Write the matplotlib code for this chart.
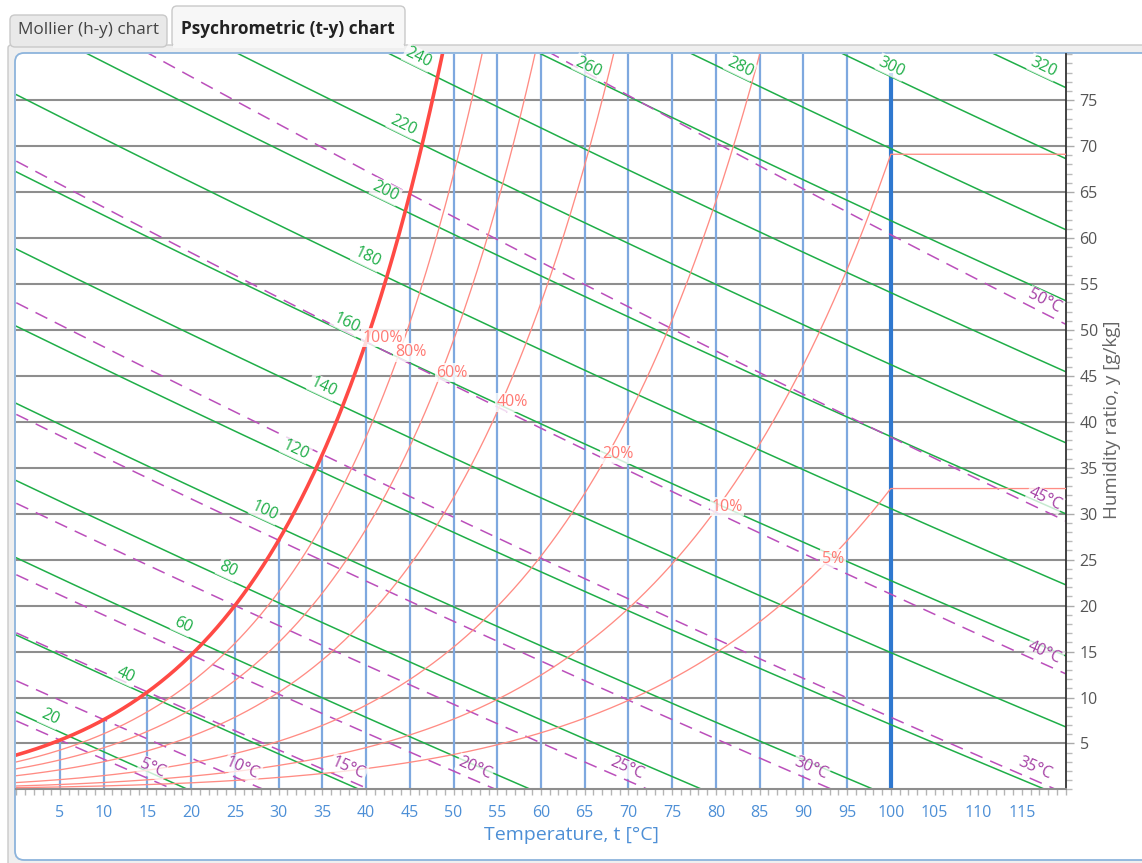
import numpy as np
import matplotlib
matplotlib.use("Agg")
import matplotlib.pyplot as plt
from matplotlib.patches import FancyBboxPatch
from matplotlib.ticker import FixedLocator, MultipleLocator

plt.rcParams['font.family'] = ['Open Sans', 'DejaVu Sans']
plt.rcParams['lines.scale_dashes'] = False

# ---------------- data ----------------
PRESSURE_KPA = 101.325
rh_levels = [1.00, 0.80, 0.60, 0.40, 0.20, 0.10, 0.05]
rh_labels = ["100%", "80%", "60%", "40%", "20%", "10%", "5%"]
enthalpy_levels = [20, 40, 60, 80, 100, 120, 140, 160, 180, 200, 220, 240, 260, 280, 300, 320]
enthalpy_labels = ["20", "40", "60", "80", "100", "120", "140", "160", "180", "200",
                   "220", "240", "260", "280", "300", "320"]
wetbulb_levels = [5, 10, 15, 20, 25, 30, 35, 40, 45, 50]
wetbulb_labels = ["5°C", "10°C", "15°C", "20°C", "25°C", "30°C", "35°C", "40°C", "45°C", "50°C"]
rh_label_wetbulb = 40          # RH labels sit where each RH curve meets this wet-bulb line
top_label_from = 260           # enthalpy labels from this value on sit at the top edge
temp_ticks = [5, 10, 15, 20, 25, 30, 35, 40, 45, 50, 55, 60, 65, 70, 75, 80, 85, 90, 95,
              100, 105, 110, 115]
humidity_ticks = [5, 10, 15, 20, 25, 30, 35, 40, 45, 50, 55, 60, 65, 70, 75]
boiling_temp = 100
boiling_line_top = 78
t_limits = (0, 120)
y_limits = (0, 80)

# ---------------- psychrometric relations ----------------
ANT_A, ANT_B, ANT_C = 8.07131, 1730.63, 233.426   # Antoine (water), mmHg
PSY_A = 6.6e-4                                     # psychrometer coefficient 1/K
CP_AIR, R0, CP_VAP = 1.02, 2381.0, 1.72            # enthalpy lines as drawn


def p_sat(t):
    p = 10 ** (ANT_A - ANT_B / (ANT_C + np.asarray(t, float))) * 0.133322
    return np.minimum(p, PRESSURE_KPA)


def y_of_pv(pv):
    pv = np.asarray(pv, float)
    with np.errstate(divide='ignore', invalid='ignore'):
        y = 622.0 * pv / (PRESSURE_KPA - pv)
    y = np.where(pv < 0.97 * PRESSURE_KPA, y, np.nan)
    return y


def y_enthalpy(h, t):
    return 1000.0 * (h - CP_AIR * t) / (R0 + CP_VAP * t)


def pv_wetbulb(twb, t):
    return p_sat(twb) - PSY_A * PRESSURE_KPA * (np.asarray(t, float) - twb)


def y_sat(t):
    return y_of_pv(p_sat(t))


# ---------------- colours ----------------
C_GRID_H = '#8e8e8e'
C_GRID_V = '#7ea8df'
C_BOIL = '#2f78cf'
C_GREEN = '#1fae48'
C_RED = '#ff8c84'
C_RED_SAT = '#ff4a45'
C_RED_TXT = '#ff7a74'
C_PURPLE = '#bb4fbb'
C_PURPLE_TXT = '#a43fa4'
C_TICK_X = '#4d8fd6'

W, H = 1142, 863
fig = plt.figure(figsize=(W / 100, H / 100), dpi=100)
fig.patch.set_facecolor('white')


def box(x0, y0, x1, y1, fc, ec, r=0.04, lw=1.0, z=0):
    p = FancyBboxPatch((x0 / 100, (H - y1) / 100), (x1 - x0) / 100, (y1 - y0) / 100,
                       boxstyle=f"round,pad=0,rounding_size={r}",
                       transform=fig.dpi_scale_trans, fc=fc, ec=ec, lw=lw, zorder=z)
    fig.patches.append(p)


# window chrome: tabs and panel
box(8, 45, 1160, 875, '#efefef', '#c9c9c9', r=0.03)
box(10, 15, 167, 47, '#e9e9e9', '#c9c9c9', r=0.05)
box(172, 6, 405, 47, '#f7f7f7', '#c9c9c9', r=0.05)
fig.patches.append(FancyBboxPatch((173.2 / 100, (H - 48) / 100), 230.6 / 100, 3 / 100,
                                  boxstyle="square,pad=0", transform=fig.dpi_scale_trans,
                                  fc='#f7f7f7', ec='none', zorder=1))
box(15, 53, 1170, 860, 'white', '#8db4dc', r=0.09, lw=1.3, z=2)
fig.text(88 / W, 1 - 30 / H, "Mollier (h-y) chart", ha='center', va='center',
         fontsize=12.3, color='#444444')
fig.text(288 / W, 1 - 29 / H, "Psychrometric (t-y) chart", ha='center', va='center',
         fontsize=12.4, color='#222222', fontweight='bold')

# ---------------- axes ----------------
ax_l, ax_r, ax_t, ax_b = 16.3, 1065.7, 54.2, 789.4
ax = fig.add_axes([ax_l / W, 1 - ax_b / H, (ax_r - ax_l) / W, (ax_b - ax_t) / H])
ax.set_zorder(5)
ax.set_facecolor('none')
ax.set_xlim(*t_limits)
ax.set_ylim(*y_limits)

# grid
for yv in humidity_ticks:
    ax.axhline(yv, color=C_GRID_H, lw=1.5, zorder=1)
for tv in temp_ticks:
    if tv == boiling_temp:
        continue
    top = min(float(y_sat(tv)), y_limits[1])
    ax.vlines(tv, 0, top, color=C_GRID_V, lw=1.6, zorder=1.2)
ax.vlines(boiling_temp, 0, boiling_line_top, color=C_BOIL, lw=3.0, zorder=1.3)

# enthalpy lines
t_all = np.linspace(t_limits[0], t_limits[1], 2401)
for h in enthalpy_levels:
    t_end = min(t_limits[1], h / CP_AIR)
    tt = np.linspace(0, t_end, 600)
    ax.plot(tt, y_enthalpy(h, tt), color=C_GREEN, lw=1.1, zorder=2)

# wet-bulb lines
wb_ends = []
for twb in wetbulb_levels:
    t_zero = twb + float(p_sat(twb)) / (PSY_A * PRESSURE_KPA)
    t_end = min(t_limits[1], t_zero)
    wb_ends.append(t_end)
    tt = np.linspace(0, t_end, 600)
    yy = y_of_pv(pv_wetbulb(twb, tt))
    ax.plot(tt, yy, color=C_PURPLE, lw=1.1, dashes=(9.5, 6.0), zorder=2.5)

# relative humidity curves
for phi in rh_levels:
    yy = y_of_pv(phi * p_sat(t_all))
    yy = np.where(yy > 95, np.nan, yy)
    if phi == 1.0:
        ax.plot(t_all, yy, color=C_RED_SAT, lw=2.6, zorder=3)
    else:
        ax.plot(t_all, yy, color=C_RED, lw=0.95, zorder=3)


def disp_angle(fx, t0):
    p1 = ax.transData.transform((t0, fx(t0)))
    p2 = ax.transData.transform((t0 + 0.5, fx(t0 + 0.5)))
    return np.degrees(np.arctan2(p2[1] - p1[1], p2[0] - p1[0]))


lbl_box = dict(boxstyle='square,pad=0.08', fc='white', ec='none', alpha=0.75)
LBL_SIZE = 11.5

# enthalpy labels
ysat_all = y_sat(t_all)
for h, lab in zip(enthalpy_levels, enthalpy_labels):
    f = lambda t, h=h: y_enthalpy(h, t)
    if h < top_label_from:
        diff = f(t_all) - ysat_all
        idx = np.where(np.diff(np.sign(diff)) != 0)[0][0]
        ta = t_all[idx] - 2.2
    else:
        yt = 77.5e-3
        ta = (h - yt * R0) / (CP_AIR + yt * CP_VAP)
    ang = disp_angle(f, ta)
    ax.text(ta, f(ta) + 1.1, lab, rotation=ang, rotation_mode='anchor', ha='center',
            va='center', fontsize=LBL_SIZE, color=C_GREEN, zorder=6, bbox=lbl_box)

# wet-bulb labels
for twb, lab, t_end in zip(wetbulb_levels, wetbulb_labels, wb_ends):
    f = lambda t, twb=twb: float(y_of_pv(pv_wetbulb(twb, t)))
    ta = t_end - 2.4
    ang = disp_angle(f, ta)
    ax.text(ta, f(ta) + 1.3, lab, rotation=ang, rotation_mode='anchor', ha='center',
            va='center', fontsize=LBL_SIZE, color=C_PURPLE_TXT, zorder=6, bbox=lbl_box)

# relative humidity labels
pv_ref = pv_wetbulb(rh_label_wetbulb, t_all)
for phi, lab in zip(rh_levels, rh_labels):
    diff = phi * p_sat(t_all) - pv_ref
    idx = np.where(np.diff(np.sign(diff)) != 0)[0][0]
    tc = t_all[idx]
    yc = float(y_of_pv(phi * p_sat(tc)))
    ax.annotate(lab, (tc, yc), xytext=(-2, 1), textcoords='offset points', ha='left',
                va='baseline', fontsize=LBL_SIZE, color=C_RED_TXT, zorder=7,
                bbox=dict(boxstyle='square,pad=0.1', fc='white', ec='none', alpha=0.8))

# spines & ticks
for s in ('left', 'top'):
    ax.spines[s].set_visible(False)
ax.spines['right'].set_color('#333333')
ax.spines['right'].set_linewidth(1.3)
ax.spines['bottom'].set_color(C_GRID_H)
ax.spines['bottom'].set_linewidth(1.5)

ax.xaxis.set_major_locator(FixedLocator(temp_ticks))
ax.xaxis.set_minor_locator(MultipleLocator(1))
ax.set_xticklabels([str(v) for v in temp_ticks])
ax.tick_params(axis='x', which='both', direction='out', length=4, width=1,
               color='#b5b5b5', labelcolor=C_TICK_X, labelsize=11.5, pad=7)

ax.yaxis.tick_right()
ax.yaxis.set_major_locator(FixedLocator(humidity_ticks))
ax.yaxis.set_minor_locator(MultipleLocator(1))
ax.set_yticklabels([str(v) for v in humidity_ticks])
ax.tick_params(axis='y', which='major', direction='out', length=6, width=1,
               color='#aaaaaa', labelcolor='#555555', labelsize=11.5, pad=4)
ax.tick_params(axis='y', which='minor', direction='out', length=4, width=1, color='#bbbbbb')

fig.text(571 / W, 1 - 835 / H, "Temperature, t [°C]", ha='center', va='center',
         fontsize=14, color=C_TICK_X)
fig.text(1112 / W, 1 - 420 / H, "Humidity ratio, y [g/kg]", ha='center', va='center',
         rotation=90, fontsize=13.5, color='#666666')

fig.savefig("out.png", dpi=100)
